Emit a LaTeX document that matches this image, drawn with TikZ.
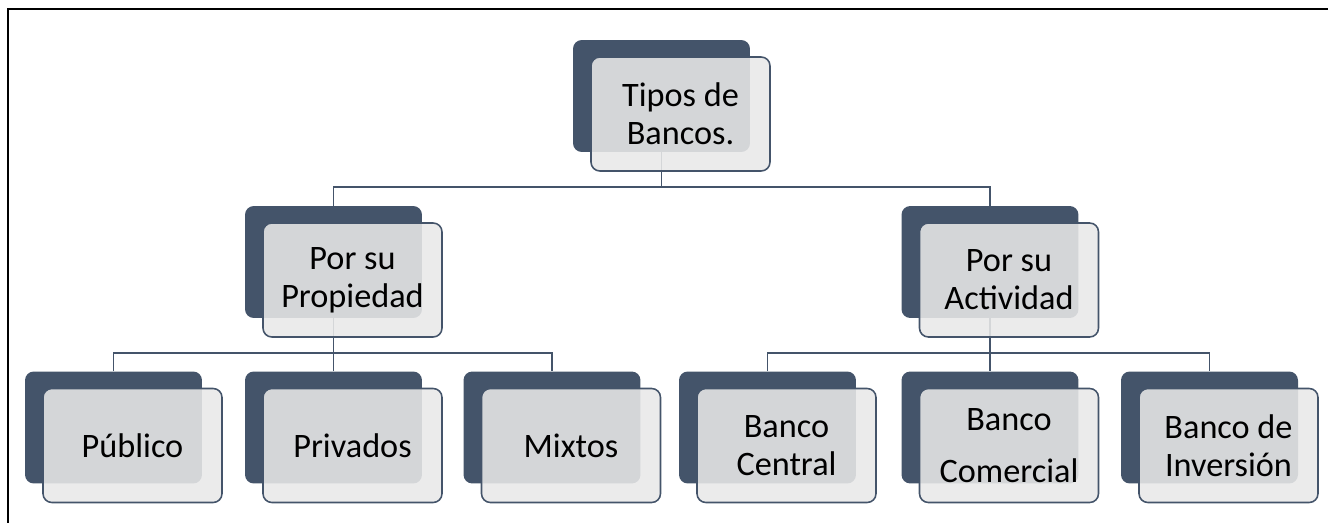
\documentclass[tikz,border=0pt]{standalone}
\usepackage{fontspec}
\setmainfont{Carlito}
\usetikzlibrary{positioning}
\definecolor{slate}{HTML}{44546A}
\definecolor{paper}{HTML}{E8E8E8}

\begin{document}
\begin{tikzpicture}[x=0.02cm, y=-0.02cm,
		backbox/.style={fill=slate, rounded corners=5pt, minimum width=3.54cm, minimum height=2.24cm, inner sep=0pt},
		frontbox/.style={draw=slate, line width=0.9pt, fill=paper, fill opacity=0.88, text opacity=1,
			rounded corners=5pt, minimum width=3.58cm, minimum height=2.28cm, inner sep=0pt,
			align=center, font=\fontsize{19.5}{21.6}\selectfont},
		link/.style={draw=slate, line width=1pt}]
		\useasboundingbox (0,0) rectangle (1328,523);
		\draw[line width=1pt] (8,523) -- (8,9) -- (1328,9);
		
		% back boxes
		\node[backbox] (tipos) at (661.5,96) {};
		\node[backbox] (prop) at (333.5,262) {};
		\node[backbox] (act) at (990,262) {};
		\foreach \name/\px in {pub/113.5, priv/333.5, mix/552, central/767.5, comercial/990, inversion/1209.5}
		{
			\node[backbox] (\name) at (\px,427.5) {};
		}
		
		% connectors
		\coordinate (bus1) at (661.5,187);
		\coordinate (bus2) at (333.5,353);
		\coordinate (bus3) at (990,353);
		\draw[link] (tipos.south) -- (bus1);
		\draw[link] (bus1) -| (prop.north);
		\draw[link] (bus1) -| (act.north);
		\draw[link] (prop.south) -- (bus2);
		\foreach \name in {pub, priv, mix}
			\draw[link] (bus2) -| (\name.north);
		\draw[link] (act.south) -- (bus3);
		\foreach \name in {central, comercial, inversion}
			\draw[link] (bus3) -| (\name.north);
		
		% front boxes
		\node[frontbox] (tiposf) at ([shift={(19,18)}]tipos.center) {Tipos de\\Bancos.};
		\node[frontbox] (propf) at ([shift={(19,18)}]prop.center) {Por su\\Propiedad};
		\node[frontbox] (actf) at ([shift={(19,18)}]act.center) {Por su\\Actividad};
		\foreach \name/\txt in {pub/{P\'ublico}, priv/{Privados}, mix/{Mixtos}, central/{Banco\\Central},
			comercial/{Banco\\[8pt]Comercial}, inversion/{Banco de\\Inversi\'on}}
		{
			\node[frontbox] (\name f) at ([shift={(19,18)}]\name.center) {\txt};
		}
	\end{tikzpicture}
\end{document}
